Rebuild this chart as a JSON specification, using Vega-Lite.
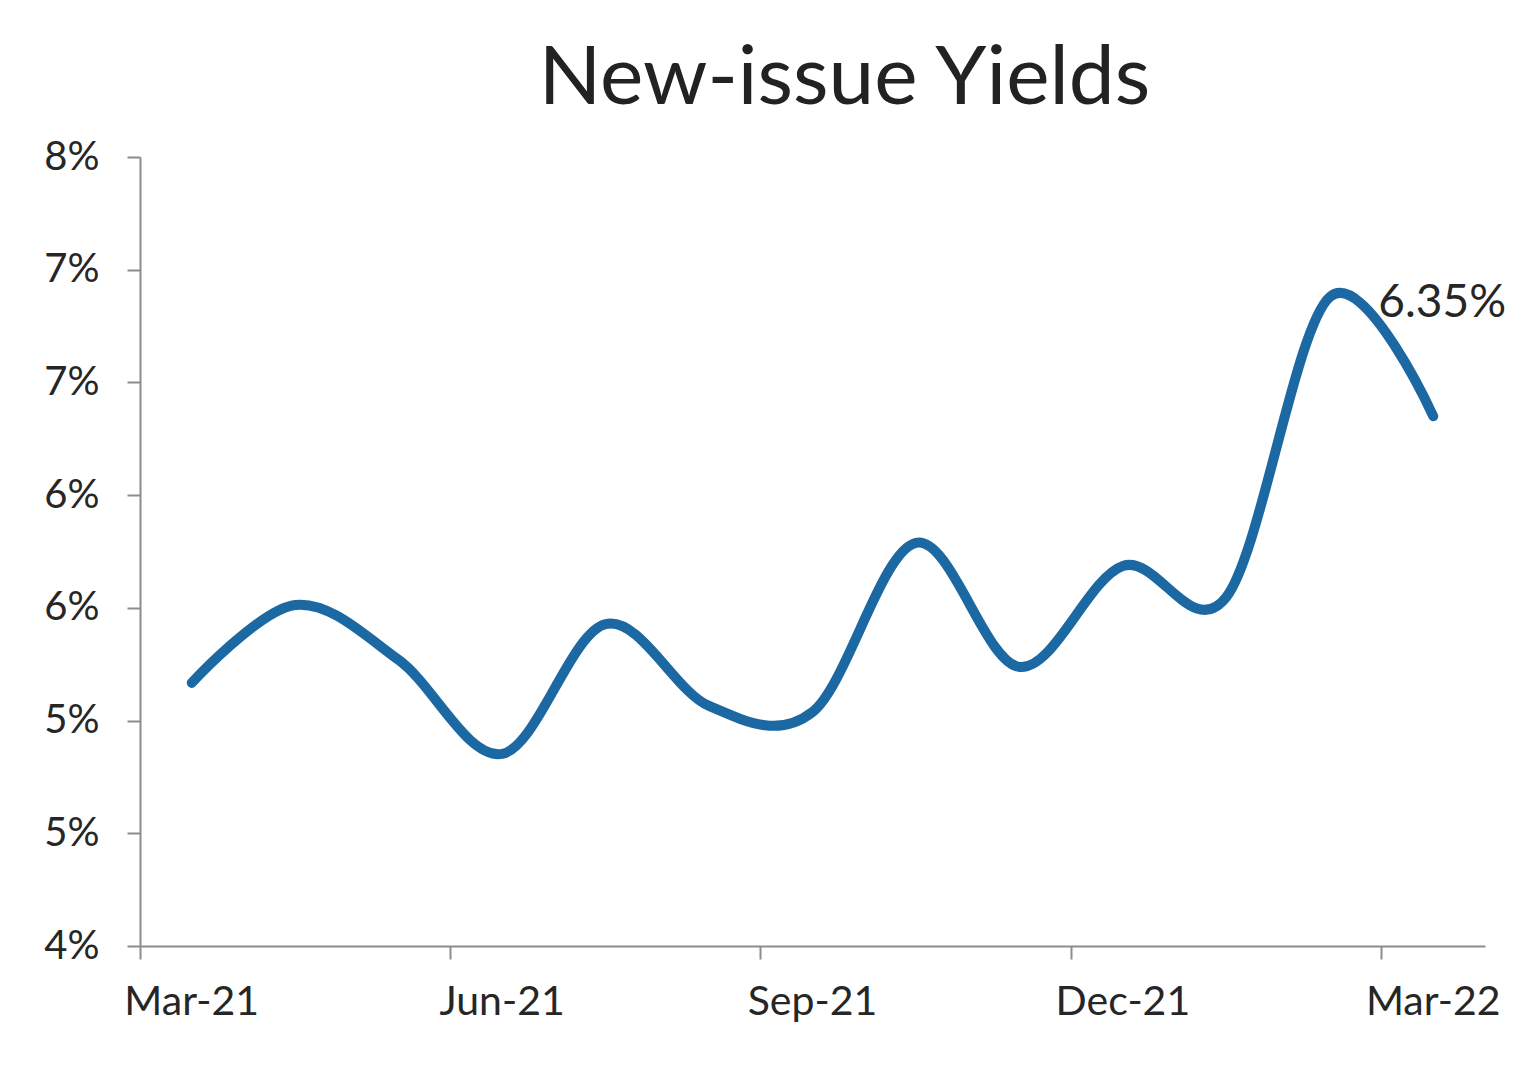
{
  "$schema": "https://vega.github.io/schema/vega-lite/v6.json",
  "autosize": "none",
  "padding": {"left": 140, "top": 157, "right": 51, "bottom": 131},
  "width": 1345,
  "height": 789,
  "background": "white",
  "config": {
    "view": {"stroke": null},
    "font": "Lato",
    "axis": {
      "grid": false,
      "domainColor": "#8c8c8c",
      "domainWidth": 2,
      "tickColor": "#8c8c8c",
      "tickWidth": 2,
      "tickSize": 13,
      "labelFont": "Lato",
      "labelFontSize": 40,
      "labelColor": "#262626",
      "title": null
    }
  },
  "title": {
    "text": "New-issue Yields",
    "font": "Lato",
    "fontSize": 82,
    "fontWeight": "normal",
    "color": "#222222",
    "anchor": "middle",
    "baseline": "alphabetic",
    "offset": -49,
    "dx": 32
  },
  "data": {
    "values": [
      {"month": "Mar-21", "yield": 0.05167},
      {"month": "Apr-21", "yield": 0.05513},
      {"month": "May-21", "yield": 0.05269},
      {"month": "Jun-21", "yield": 0.04852},
      {"month": "Jul-21", "yield": 0.05428},
      {"month": "Aug-21", "yield": 0.05065},
      {"month": "Sep-21", "yield": 0.05038},
      {"month": "Oct-21", "yield": 0.05788},
      {"month": "Nov-21", "yield": 0.05238},
      {"month": "Dec-21", "yield": 0.05686},
      {"month": "Jan-22", "yield": 0.05548},
      {"month": "Feb-22", "yield": 0.06879},
      {"month": "Mar-22", "yield": 0.0635}
    ]
  },
  "encoding": {
    "x": {
      "field": "month",
      "type": "ordinal",
      "sort": null,
      "bandPosition": 0.5,
      "scale": {"type": "band", "paddingInner": 0, "paddingOuter": 0},
      "axis": {
        "values": ["Mar-21", "Jun-21", "Sep-21", "Dec-21", "Mar-22"],
        "bandPosition": 0,
        "labelAngle": 0,
        "labelPadding": 23,
        "labelFontSize": 41
      }
    },
    "y": {
      "field": "yield",
      "type": "quantitative",
      "scale": {"domain": [0.04, 0.075], "nice": false, "zero": false},
      "axis": {
        "values": [0.04, 0.045, 0.05, 0.055, 0.06, 0.065, 0.07, 0.075],
        "format": ".0%",
        "labelPadding": 28
      }
    }
  },
  "layer": [
    {
      "mark": {
        "type": "line",
        "interpolate": "cardinal",
        "color": "#1b68a3",
        "strokeWidth": 10,
        "strokeCap": "round",
        "strokeJoin": "round"
      }
    },
    {
      "transform": [{"filter": "datum.month == 'Mar-22'"}],
      "mark": {
        "type": "text",
        "align": "left",
        "baseline": "alphabetic",
        "dx": -55,
        "dy": -99,
        "fontSize": 46,
        "color": "#262626"
      },
      "encoding": {
        "text": {"field": "yield", "type": "quantitative", "format": ".2%"}
      }
    }
  ]
}
